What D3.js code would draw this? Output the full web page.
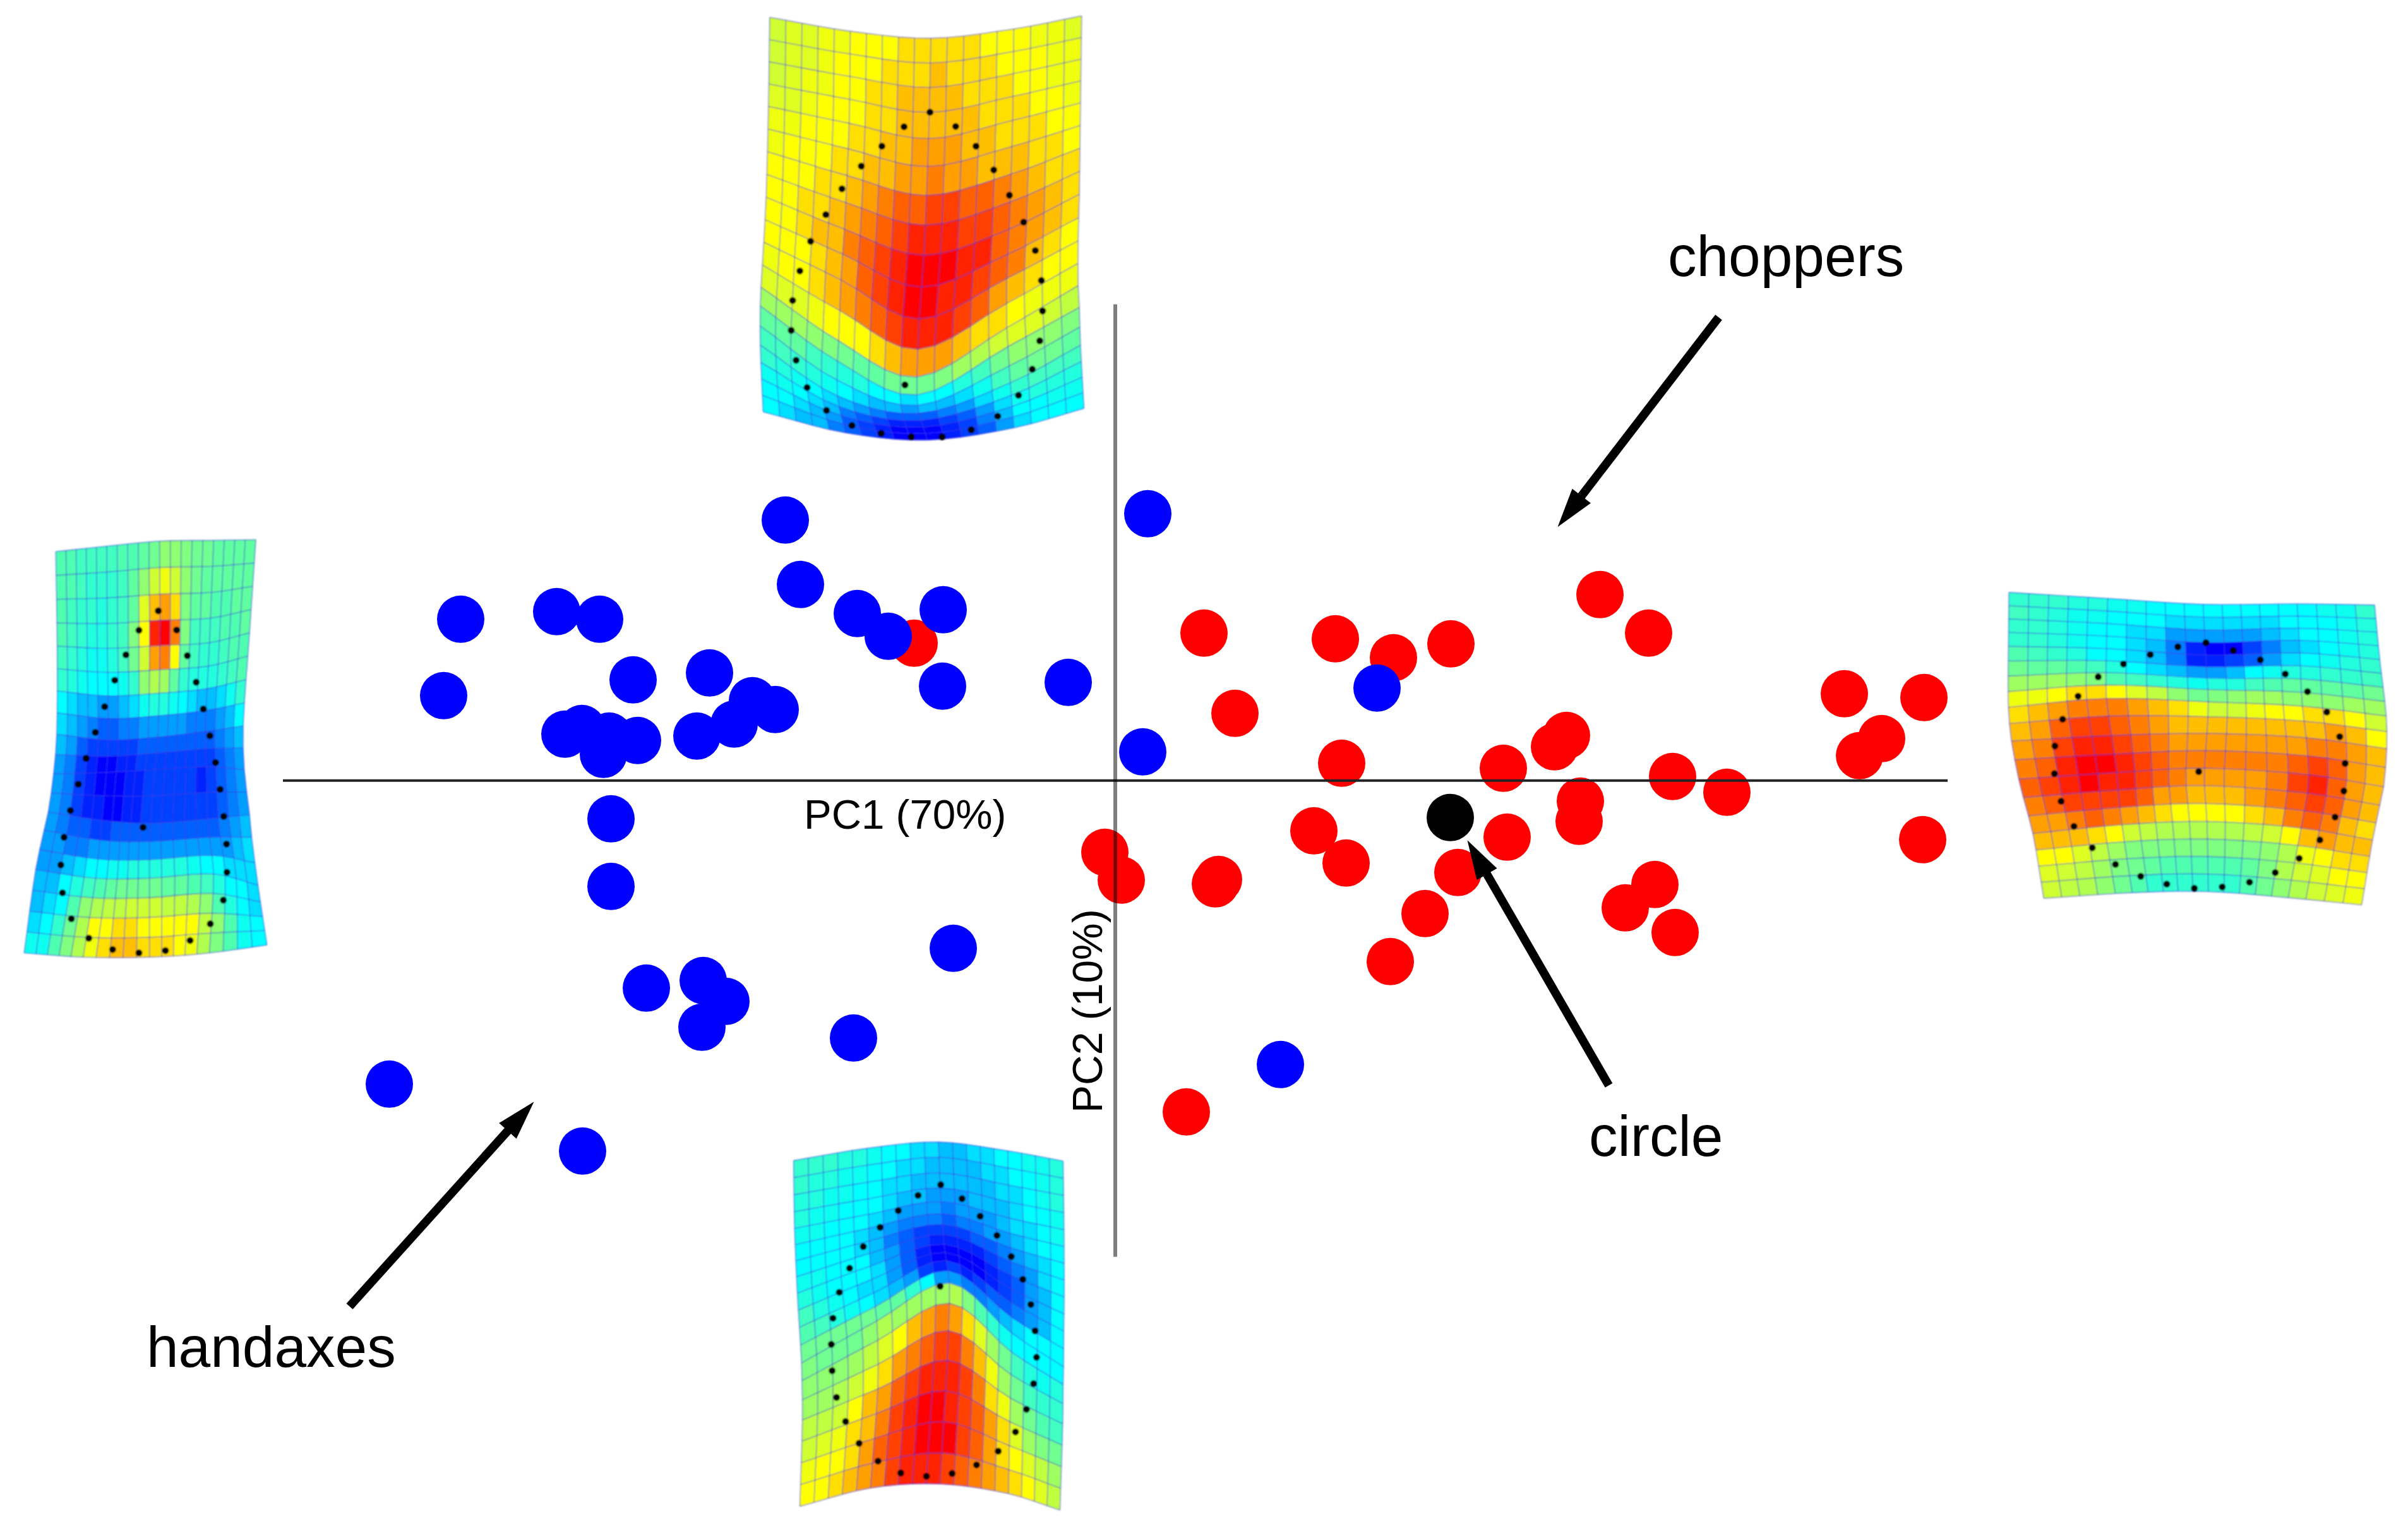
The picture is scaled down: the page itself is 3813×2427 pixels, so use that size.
<!DOCTYPE html>
<html>
<head>
<meta charset="utf-8">
<script src="https://cdn.jsdelivr.net/npm/d3@7"></script>
<style>
  body { margin: 0; background: #fff; }
  svg { display: block; }
  text { font-family: "Liberation Sans", Arial, sans-serif; fill: #000; }
</style>
</head>
<body>
<div id="chart"></div>
<script>
// PC scores, [PC1, PC2]
const handaxes = [
  [-1036, 255], [-884, 267], [-816, 255], [-763, 159], [-642, 170], [-1063, 134],
  [-871, 73], [-844, 82], [-801, 70], [-810, 41], [-756, 63], [-662, 70],
  [-603, 89], [-574, 126], [-538, 112], [-798, -61], [-522, 412], [-498, 310],
  [-408, 264], [-359, 228], [-272, 270], [-273, 149], [-74, 155], [52, 422],
  [44, 45], [415, 146], [-798, -168], [-256, -266], [-742, -329], [-652, -317],
  [-616, -350], [-654, -391], [-414, -408], [-1149, -481], [-843, -587], [262, -450],
];
const choppers = [
  [-318, 217], [141, 233], [349, 224], [441, 194], [532, 216], [190, 106],
  [359, 27], [615, 19], [696, 53], [715, 71], [737, -33], [735, -65],
  [768, 294], [845, 233], [1155, 137], [1281, 131], [1214, 66], [1179, 39],
  [883, 6], [969, -19], [1279, -94], [855, -165], [808, -202], [887, -241],
  [621, -90], [315, -80], [366, -131], [543, -146], [164, -157], [159, -164],
  [436, -287], [491, -211], [-16, -114], [10, -158], [113, -525],
];
const circles = [[531, -59]];

// arrows: tail and tip in PC units
const arrows = [
  [[956, 733], [701, 401]],
  [[782, -483], [558, -95]],
  [[-1212, -833], [-920, -509]],
];

// thin-plate-spline panels: mesh lines are sampled at these line numbers
const meshRows = [0, 4, 8, 10, 12, 13, 15, 19];
const meshCols = [0, 5, 10, 15, 19];

// colour level of each grid cell, 0 blue ... 32 red
const topCells = [
  [21,22,22,23,23,24,24,24,25,25,25,25,25,24,24,24,23,23,22],
  [21,22,22,23,24,24,24,25,25,25,26,25,25,25,24,24,24,23,23],
  [21,22,23,23,24,24,25,25,26,26,26,26,25,25,25,24,24,23,23],
  [22,22,23,24,24,24,25,25,26,26,26,26,26,25,25,25,24,24,23],
  [23,23,24,24,24,25,25,26,26,27,27,27,26,26,25,25,25,24,24],
  [23,24,24,24,25,25,26,26,27,27,28,27,27,26,26,26,25,25,24],
  [24,24,24,25,25,26,27,28,29,29,30,30,29,29,28,27,26,25,25],
  [24,24,25,25,26,27,28,29,30,31,31,31,30,30,29,28,27,26,25],
  [24,24,25,26,26,28,29,30,31,32,32,32,31,31,29,28,27,26,25],
  [24,24,24,25,26,27,29,30,31,32,32,31,31,30,29,28,26,25,24],
  [23,24,24,25,26,27,28,29,30,31,31,31,30,29,27,26,25,24,24],
  [22,22,22,23,24,24,24,25,26,27,27,27,26,25,25,24,23,23,23],
  [18,18,18,17,16,15,14,14,15,15,15,16,18,19,21,22,22,21,20],
  [14,14,14,12,11,10,10,8,8,7,8,8,10,12,15,17,17,17,16],
  [12,12,11,10,9,8,7,6,6,5,6,6,7,9,12,14,15,15,14],
  [11,10,9,8,7,6,5,4,3,3,3,4,5,7,9,11,12,12,12],
  [9,9,8,7,6,4,3,2,1,1,1,2,3,5,7,9,10,10,10],
  [8,8,7,6,5,3,2,1,0,0,0,1,2,4,6,8,8,9,9],
  [8,7,6,6,4,3,2,1,0,0,0,1,2,3,5,7,8,8,8],
];
const leftCells = [
  [13,13,12,12,12,12,13,13,14,15,17,17,16,15,15,14,14,14,14],
  [13,13,12,11,11,11,12,14,17,21,23,21,17,15,14,14,14,14,14],
  [13,12,11,11,10,11,12,14,22,26,27,25,16,14,14,13,13,14,14],
  [13,12,11,10,10,11,12,16,24,31,32,28,16,12,12,12,13,13,14],
  [12,11,10,9,9,10,12,15,21,27,28,24,14,12,11,11,12,13,13],
  [11,10,9,8,8,8,9,11,17,19,18,14,11,10,10,10,11,12,13],
  [8,7,6,6,5,5,6,7,9,10,10,9,8,7,6,6,7,9,11],
  [7,6,5,4,3,3,4,4,5,5,5,5,5,4,4,4,5,6,8],
  [6,5,3,2,2,2,2,2,3,3,3,3,3,3,3,3,4,5,6],
  [5,4,2,1,0,0,1,1,2,2,2,2,2,2,2,2,3,4,5],
  [5,4,2,1,0,0,0,1,1,2,2,2,2,2,1,2,3,4,5],
  [5,4,2,1,1,0,0,1,1,2,2,2,2,2,2,2,3,4,5],
  [5,4,3,3,2,2,3,3,3,3,3,3,3,3,3,3,4,5,6],
  [5,5,4,4,5,5,5,5,5,5,5,5,5,5,5,5,5,6,7],
  [5,5,6,7,8,8,9,9,10,10,10,10,10,9,8,8,7,7,7],
  [6,6,8,10,12,13,14,15,15,15,15,14,14,13,12,10,8,8,7],
  [6,7,8,13,17,19,20,20,21,21,21,20,20,19,17,13,10,8,7],
  [7,8,11,15,19,24,24,25,25,24,24,24,24,24,20,17,13,9,8],
  [9,9,13,16,19,23,25,26,26,25,25,25,24,23,19,16,13,9,8],
];
const rightCells = [
  [11,11,11,10,10,9,9,8,8,8,8,8,8,8,8,8,9,9,11],
  [12,11,10,9,9,8,8,8,7,7,7,7,7,7,8,8,8,9,10],
  [11,11,10,9,8,8,7,7,5,5,5,5,5,6,7,8,8,9,10],
  [11,11,10,9,8,8,7,6,4,1,0,0,2,4,6,7,8,9,10],
  [13,12,11,10,8,8,7,6,4,1,1,2,3,5,7,8,9,10,11],
  [15,14,14,13,12,10,8,7,6,5,5,6,8,9,10,10,11,11,12],
  [18,18,18,17,16,13,12,11,10,9,10,10,12,13,14,14,14,14,15],
  [23,23,24,25,25,24,22,20,17,15,16,17,18,18,17,17,17,18,18],
  [25,26,27,28,28,28,27,26,25,23,21,21,23,24,24,25,25,24,21],
  [26,27,29,30,30,29,28,27,26,26,26,26,26,26,26,26,27,26,24],
  [27,28,30,31,31,30,29,28,27,27,27,27,27,27,27,28,28,27,26],
  [28,29,31,32,32,31,30,29,28,28,28,28,28,28,29,30,29,27,26],
  [29,30,31,32,31,31,30,29,28,27,27,27,27,28,30,31,29,27,26],
  [28,29,30,30,30,30,29,27,27,26,26,26,27,28,29,30,29,27,26],
  [27,27,28,29,28,27,26,25,24,24,24,24,25,26,28,29,28,26,25],
  [26,26,26,25,24,21,20,19,19,19,19,19,20,21,24,26,27,26,26],
  [24,24,22,20,18,16,16,16,16,16,16,16,16,17,19,23,24,25,25],
  [22,21,20,18,16,15,14,13,13,13,13,13,14,16,19,21,22,24,24],
  [21,20,19,17,15,13,11,11,11,11,11,11,13,15,17,19,21,22,23],
];
const bottomCells = [
  [11,11,11,10,10,9,8,8,7,7,6,6,7,7,8,8,9,9,10],
  [11,10,10,9,9,8,8,7,7,6,6,6,6,7,7,8,8,9,10],
  [10,10,9,9,8,8,7,7,6,6,6,6,6,6,7,7,8,9,10],
  [10,9,9,8,8,8,7,6,6,5,5,5,6,6,6,7,8,8,9],
  [9,9,8,8,8,7,6,5,5,5,4,5,5,5,6,7,7,8,9],
  [8,8,8,8,7,6,5,4,4,4,3,4,4,5,5,6,7,8,8],
  [8,8,8,8,7,6,4,3,2,2,2,2,3,3,4,5,6,7,8],
  [9,9,8,8,8,6,5,3,2,1,1,1,1,2,3,4,5,7,8],
  [10,9,8,8,8,7,5,3,1,0,0,0,0,1,2,3,5,6,8],
  [12,10,9,8,7,7,5,3,1,0,0,0,0,1,2,3,5,6,8],
  [13,12,10,9,8,7,6,5,2,1,2,1,2,3,3,4,5,6,8],
  [15,15,15,15,15,14,14,11,8,5,5,4,4,5,6,7,8,8,8],
  [16,15,15,15,17,19,18,18,18,18,19,16,13,11,9,8,8,8,8],
  [17,17,17,18,20,22,24,26,27,28,27,25,22,18,15,12,10,9,10],
  [18,18,19,21,23,25,27,28,29,30,30,28,26,23,18,15,12,11,11],
  [20,20,21,24,26,27,29,30,31,31,31,30,28,25,23,18,15,13,12],
  [21,22,23,25,26,28,30,31,32,32,31,30,29,27,25,22,18,16,15],
  [23,24,24,25,27,29,30,31,32,32,32,30,29,27,25,24,22,20,18],
  [24,24,25,26,27,28,30,31,31,31,30,29,28,27,26,25,24,22,20],
];

// mesh control points, one line per meshRows entry, values at meshCols
const topMeshX = [
  [105, 450, 795, 1150, 1440], [100, 445, 785, 1145, 1435], [90, 425, 765, 1130, 1430],
  [80, 410, 745, 1120, 1425], [68, 400, 735, 1120, 1425], [65, 395, 735, 1125, 1430],
  [65, 395, 745, 1135, 1435], [77, 430, 780, 1150, 1450],
];
const topMeshY = [
  [60, 108, 132, 100, 55], [367, 425, 478, 415, 355], [680, 790, 880, 790, 670],
  [835, 965, 1100, 960, 830], [990, 1175, 1300, 1130, 985], [1055, 1245, 1362, 1195, 1060],
  [1190, 1365, 1425, 1320, 1190], [1420, 1492, 1517, 1475, 1408],
];
const leftMeshX = [
  [205, 447, 698, 955, 1155], [212, 450, 700, 935, 1125], [210, 455, 690, 915, 1095],
  [195, 445, 675, 920, 1100], [170, 425, 655, 925, 1125], [150, 415, 650, 935, 1135],
  [110, 395, 650, 955, 1165], [55, 335, 650, 935, 1208],
];
const leftMeshY = [
  [97, 78, 60, 57, 55], [432, 440, 430, 420, 385], [745, 765, 755, 735, 715],
  [885, 880, 870, 860, 870], [1020, 1050, 1060, 1045, 1030], [1085, 1120, 1125, 1110, 1110],
  [1225, 1255, 1255, 1240, 1280], [1520, 1535, 1535, 1520, 1492],
];
const rightMeshX = [
  [52, 435, 805, 1170, 1470], [50, 430, 815, 1180, 1490], [50, 430, 825, 1190, 1515],
  [62, 450, 820, 1205, 1517], [90, 470, 810, 1215, 1505], [108, 475, 810, 1210, 1490],
  [145, 490, 820, 1185, 1462], [187, 530, 825, 1135, 1420],
];
const rightMeshY = [
  [52, 80, 107, 105, 110], [300, 310, 340, 330, 360], [580, 540, 555, 575, 620],
  [735, 710, 700, 720, 770], [910, 880, 860, 890, 945], [995, 960, 940, 975, 1030],
  [1160, 1120, 1105, 1135, 1190], [1458, 1432, 1427, 1455, 1488],
];
const bottomMeshX = [
  [50, 398, 738, 1067, 1330], [55, 405, 750, 1075, 1334], [68, 415, 765, 1085, 1335],
  [78, 430, 775, 1085, 1333], [88, 445, 790, 1085, 1332], [90, 450, 790, 1085, 1330],
  [92, 450, 780, 1080, 1328], [80, 415, 745, 1070, 1315],
];
const bottomMeshY = [
  [118, 70, 45, 80, 120], [385, 330, 280, 345, 390], [640, 534, 448, 572, 655],
  [775, 640, 512, 678, 790], [915, 750, 600, 797, 930], [985, 826, 680, 872, 1000],
  [1140, 1018, 905, 1054, 1155], [1480, 1408, 1392, 1430, 1495],
];

// outline landmarks of each panel
const topDots = [
  [791,387],[680,437],[901,436],[585,504],[988,504],[497,573],[1064,586],[414,651],
  [1131,673],[345,740],[1192,766],[280,832],[1242,864],[234,934],[1268,967],[203,1036],
  [1273,1072],[197,1139],[1261,1175],[218,1242],[1229,1273],[265,1336],[1170,1363],
  [348,1415],[1081,1435],[457,1467],[968,1482],[582,1494],[711,1506],[843,1506],[684,1327],
];
const leftDots = [
  [692,307],[600,376],[779,375],[538,463],[830,466],[485,553],[872,560],[437,647],
  [906,655],[393,738],[937,750],[349,830],[964,845],[312,922],[986,940],[274,1015],
  [1003,1036],[244,1110],[1016,1134],[229,1208],[1018,1234],[237,1307],[1001,1333],
  [279,1399],[939,1417],[362,1468],[843,1476],[475,1508],[600,1520],[726,1512],[620,1075],
];
const rightDots = [
  [816,283],[707,302],[922,319],[600,338],[1027,362],[496,381],[1124,427],[398,440],
  [1210,508],[320,529],[1285,602],[260,635],[1335,715],[230,758],[1356,838],[228,885],
  [1351,965],[254,1012],[1317,1085],[304,1127],[1258,1190],[375,1226],[1178,1275],
  [465,1302],[1085,1340],[563,1357],[985,1384],[664,1393],[771,1412],[879,1406],[788,876],
];
const bottomDots = [
  [749,213],[641,255],[850,268],[547,315],[936,337],[461,381],[1016,413],[381,457],
  [1084,496],[316,542],[1139,586],[267,637],[1177,685],[237,739],[1197,789],[229,842],
  [1204,893],[233,946],[1190,997],[254,1051],[1156,1098],[297,1146],[1104,1187],
  [361,1232],[1022,1263],[451,1302],[919,1317],[559,1349],[681,1362],[803,1351],[746,613],
];

const width = 3813;
const height = 2427;

const svg = d3.select("#chart").append("svg")
  .attr("width", width)
  .attr("height", height)
  .style("background", "#fff");

svg.append("defs").append("filter")
  .attr("id", "soft")
  .attr("x", "-2%").attr("y", "-2%").attr("width", "104%").attr("height", "104%")
  .append("feGaussianBlur")
  .attr("stdDeviation", 0.9);

const x = d3.scaleLinear().domain([-1318, 1318]).range([447.5, 3083.5]);
const y = d3.scaleLinear().domain([-754, 754]).range([1989.3, 481.3]);

const jet = d3.scaleLinear()
  .domain([0, 8, 16, 24, 32])
  .range(["#0000ff", "#00ffff", "#80ff80", "#ffff00", "#ff0000"]);

// cubic through the control values, tangents from the neighbours
function spline(ts, vs, t) {
  let k = d3.bisectRight(ts, t) - 1;
  k = Math.max(0, Math.min(ts.length - 2, k));
  const slope = function (i) {
    const a = Math.max(0, i - 1);
    const b = Math.min(ts.length - 1, i + 1);
    return (vs[b] - vs[a]) / (ts[b] - ts[a]);
  };
  const h = ts[k + 1] - ts[k];
  const u = (t - ts[k]) / h;
  const u2 = u * u;
  const u3 = u2 * u;
  return (2 * u3 - 3 * u2 + 1) * vs[k] + (u3 - 2 * u2 + u) * h * slope(k) +
    (-2 * u3 + 3 * u2) * vs[k + 1] + (u3 - u2) * h * slope(k + 1);
}

function meshValue(table, row, col) {
  const across = meshCols.map(function (c, j) {
    return spline(meshRows, table.map(function (r) { return r[j]; }), row);
  });
  return spline(meshCols, across, col);
}

function drawPanel(name, cells, meshX, meshY, dots, crop) {
  const sx = d3.scaleLinear().domain([0, crop.w]).range([crop.x, crop.x + crop.pw]);
  const sy = d3.scaleLinear().domain([0, 1568]).range([crop.y, crop.y + crop.ph]);
  const g = svg.append("g").attr("class", "panel " + name).attr("filter", "url(#soft)");

  const nodes = d3.range(20).map(function (r) {
    return d3.range(20).map(function (c) {
      return [sx(meshValue(meshX, r, c)), sy(meshValue(meshY, r, c))];
    });
  });

  const poly = d3.line();
  const flat = [];
  cells.forEach(function (row, r) {
    row.forEach(function (v, c) {
      flat.push({ v: v, pts: [nodes[r][c], nodes[r][c + 1], nodes[r + 1][c + 1], nodes[r + 1][c]] });
    });
  });

  g.selectAll("path.cell").data(flat).enter().append("path")
    .attr("class", "cell")
    .attr("d", function (d) { return poly(d.pts) + "Z"; })
    .attr("fill", function (d) { return jet(d.v); })
    .attr("stroke", function (d) { return jet(d.v); })
    .attr("stroke-width", 0.6);

  const rowLines = nodes;
  const colLines = d3.range(20).map(function (c) {
    return nodes.map(function (row) { return row[c]; });
  });
  g.selectAll("path.mesh").data(rowLines.concat(colLines)).enter().append("path")
    .attr("class", "mesh")
    .attr("d", poly)
    .attr("fill", "none")
    .attr("stroke", "#3a3ae0")
    .attr("stroke-opacity", 0.55)
    .attr("stroke-width", 1.6);

  g.selectAll("circle").data(dots).enter().append("circle")
    .attr("cx", function (d) { return sx(d[0]); })
    .attr("cy", function (d) { return sy(d[1]); })
    .attr("r", 5.5)
    .attr("fill", "#000");
}

drawPanel("top", topCells, topMeshX, topMeshY, topDots, { x: 1180, y: 0, w: 1568, pw: 580, ph: 720 });
drawPanel("left", leftCells, leftMeshX, leftMeshY, leftDots, { x: 20, y: 830, w: 1260, pw: 420, ph: 700 });
drawPanel("right", rightCells, rightMeshX, rightMeshY, rightDots, { x: 3160, y: 920, w: 1568, pw: 640, ph: 540 });
drawPanel("bottom", bottomCells, bottomMeshX, bottomMeshY, bottomDots, { x: 1240, y: 1790, w: 1440, pw: 480, ph: 630 });

// scatter
function drawPoints(data, color) {
  svg.append("g").selectAll("circle").data(data).enter().append("circle")
    .attr("cx", function (d) { return x(d[0]); })
    .attr("cy", function (d) { return y(d[1]); })
    .attr("r", 37.5)
    .attr("fill", color);
}
drawPoints(choppers, "#ff0000");
drawPoints(circles, "#000000");
drawPoints(handaxes, "#0000ff");

// axes cross at the origin, no ticks in the original
const xAxis = svg.append("g")
  .attr("transform", "translate(0," + y(0) + ")")
  .call(d3.axisBottom(x).tickValues([]).tickSizeOuter(0));
xAxis.select(".domain").attr("stroke", "#222").attr("stroke-width", 4);

const yAxis = svg.append("g")
  .attr("transform", "translate(" + x(0) + ",0)")
  .call(d3.axisLeft(y).tickValues([]).tickSizeOuter(0));
yAxis.select(".domain").attr("stroke", "#000").attr("stroke-opacity", 0.5).attr("stroke-width", 6);

svg.append("text").attr("x", 1273).attr("y", 1312).attr("font-size", 65.5).text("PC1 (70%)");
svg.append("text")
  .attr("transform", "translate(1745,1762) rotate(-90)")
  .attr("font-size", 66)
  .text("PC2 (10%)");

svg.append("text").attr("x", 2641).attr("y", 437).attr("font-size", 91).text("choppers");
svg.append("text").attr("x", 2516).attr("y", 1830).attr("font-size", 91).text("circle");
svg.append("text").attr("x", 232).attr("y", 2164).attr("font-size", 91).text("handaxes");

// arrows
const headLength = 62;
const headHalf = 18.5;
arrows.forEach(function (a) {
  const x0 = x(a[0][0]), y0 = y(a[0][1]);
  const x1 = x(a[1][0]), y1 = y(a[1][1]);
  const len = Math.hypot(x1 - x0, y1 - y0);
  const ux = (x1 - x0) / len, uy = (y1 - y0) / len;
  const bx = x1 - ux * headLength, by = y1 - uy * headLength;
  svg.append("line")
    .attr("x1", x0).attr("y1", y0)
    .attr("x2", bx + ux * 4).attr("y2", by + uy * 4)
    .attr("stroke", "#000")
    .attr("stroke-width", 13.5);
  svg.append("path")
    .attr("d", d3.line()([
      [x1, y1],
      [bx - uy * headHalf, by + ux * headHalf],
      [bx + uy * headHalf, by - ux * headHalf],
    ]) + "Z")
    .attr("fill", "#000");
});
</script>
</body>
</html>
